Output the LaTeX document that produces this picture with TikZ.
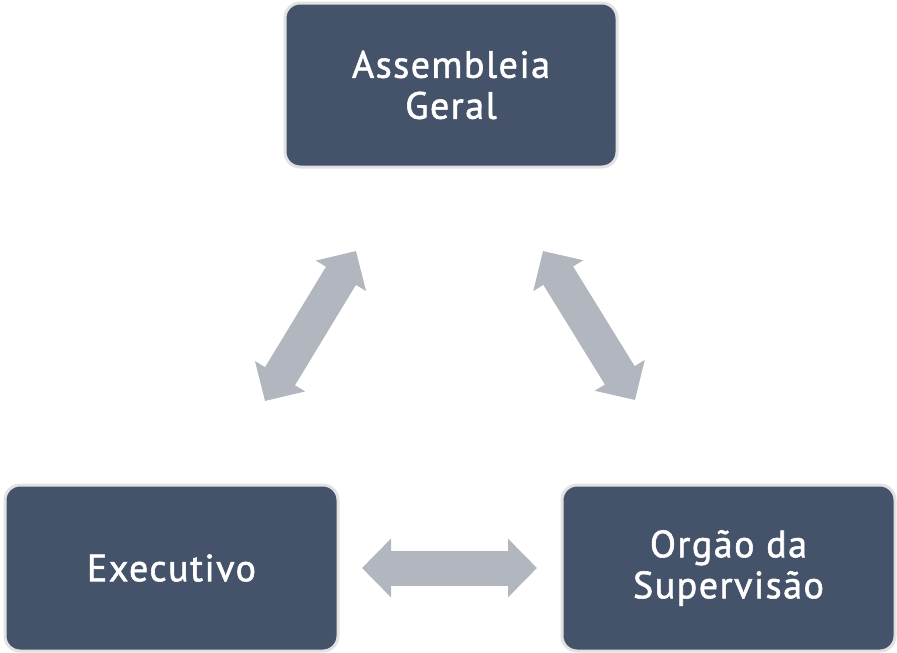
\documentclass[tikz,border=0pt]{standalone}
\usepackage{fontspec}
\setmainfont{PT Sans}
\newfontfamily\boxfont[FakeBold=1.5,LetterSpace=4]{PT Sans}
\usetikzlibrary{arrows.meta}
\definecolor{boxfill}{HTML}{45536A}
\definecolor{boxedge}{HTML}{E2E2E2}
\definecolor{arrowgray}{HTML}{B2B6BE}
\tikzset{
  orgbox/.style={draw=boxedge, line width=3pt, fill=boxfill, rounded corners=15pt,
    text=white, align=center, inner sep=0pt,
    font=\boxfont\fontsize{38}{41}\selectfont},
  bigarrow/.style={draw=arrowgray, line width=35pt,
    {Triangle[width=57pt,length=29pt]}-{Triangle[width=57pt,length=29pt]}}
}
\begin{document}
\begin{tikzpicture}[x=1pt,y=-1pt]
\useasboundingbox (0,0) rectangle (897,653);
\node[orgbox, minimum width=332pt, minimum height=164pt] (ag) at (451,85) {Assembleia\\Geral};
\node[orgbox, minimum width=333pt, minimum height=166pt] (ex) at (171.5,568) {Executivo};
\node[orgbox, minimum width=333pt, minimum height=166pt] (os) at (728.5,568) {Orgão da\\Supervisão};
\coordinate (l1) at (265,401);
\coordinate (l2) at (356,251);
\coordinate (r1) at (543,251);
\coordinate (r2) at (635,400);
\coordinate (h1) at (362,568);
\coordinate (h2) at (537,568);
\draw[bigarrow] (l1) -- (l2);
\draw[bigarrow] (r1) -- (r2);
\draw[bigarrow] (h1) -- (h2);
\end{tikzpicture}
\end{document}
